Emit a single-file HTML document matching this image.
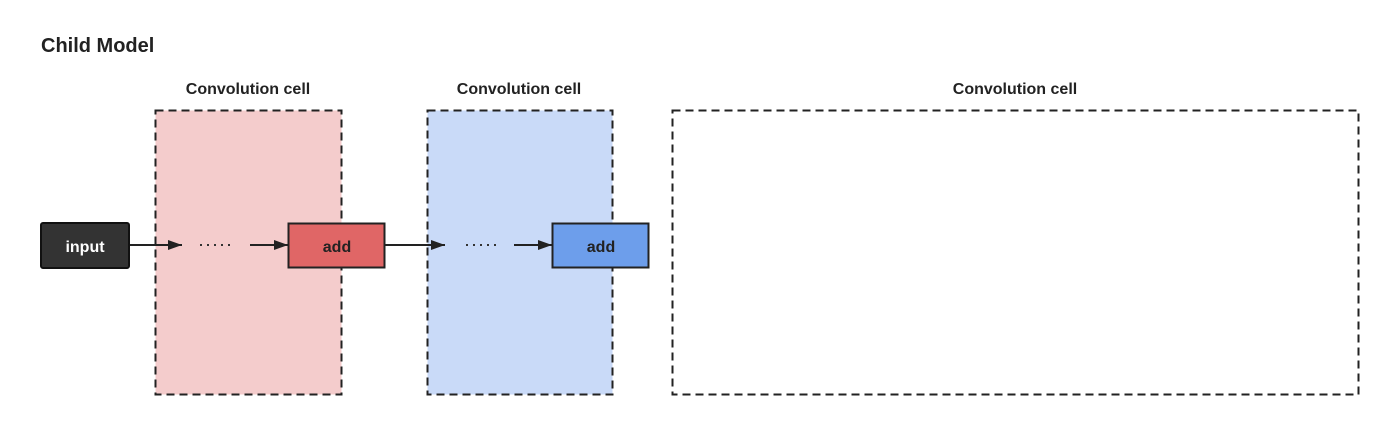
<!DOCTYPE html>
<html><head><style>
body{margin:0;width:1400px;height:443px;background:#fff;overflow:hidden}
</style></head><body>
<svg width="1400" height="443" xmlns="http://www.w3.org/2000/svg" font-family="Liberation Sans, sans-serif" font-weight="bold">
<defs><marker id="a" markerWidth="14" markerHeight="10" refX="14" refY="5" orient="auto" markerUnits="userSpaceOnUse"><path d="M0,0 L14,5 L0,10 z" fill="#222"/></marker></defs>
<text x="41" y="52" font-size="20" fill="#222">Child Model</text>
<text x="248" y="94" font-size="16" fill="#222" text-anchor="middle">Convolution cell</text>
<text x="519" y="94" font-size="16" fill="#222" text-anchor="middle">Convolution cell</text>
<text x="1015" y="94" font-size="16" fill="#222" text-anchor="middle">Convolution cell</text>
<rect x="155.5" y="110.5" width="186" height="284" fill="#f4cccc" stroke="#222" stroke-width="2" stroke-dasharray="8,5"/>
<rect x="427.5" y="110.5" width="185" height="284" fill="#c9daf8" stroke="#222" stroke-width="2" stroke-dasharray="8,5"/>
<rect x="672.5" y="110.5" width="686" height="284" fill="none" stroke="#222" stroke-width="2" stroke-dasharray="8,5"/>
<line x1="129" y1="245" x2="182" y2="245" stroke="#222" stroke-width="2" marker-end="url(#a)"/>
<line x1="250" y1="245" x2="288" y2="245" stroke="#222" stroke-width="2" marker-end="url(#a)"/>
<line x1="385" y1="245" x2="445" y2="245" stroke="#222" stroke-width="2" marker-end="url(#a)"/>
<line x1="514" y1="245" x2="552" y2="245" stroke="#222" stroke-width="2" marker-end="url(#a)"/>
<line x1="200" y1="245" x2="232" y2="245" stroke="#333" stroke-width="2" stroke-dasharray="2,5"/>
<line x1="466" y1="245" x2="498" y2="245" stroke="#333" stroke-width="2" stroke-dasharray="2,5"/>
<rect x="41" y="223" width="88" height="45" rx="2" fill="#333" stroke="#111" stroke-width="2"/>
<text x="85" y="252" font-size="16" fill="#fff" text-anchor="middle">input</text>
<rect x="288.5" y="223.5" width="96" height="44" fill="#e06666" stroke="#222" stroke-width="2"/>
<text x="337" y="252" font-size="16" fill="#222" text-anchor="middle">add</text>
<rect x="552.5" y="223.5" width="96" height="44" fill="#6d9eeb" stroke="#222" stroke-width="2"/>
<text x="601" y="252" font-size="16" fill="#222" text-anchor="middle">add</text>
</svg>
</body></html>
